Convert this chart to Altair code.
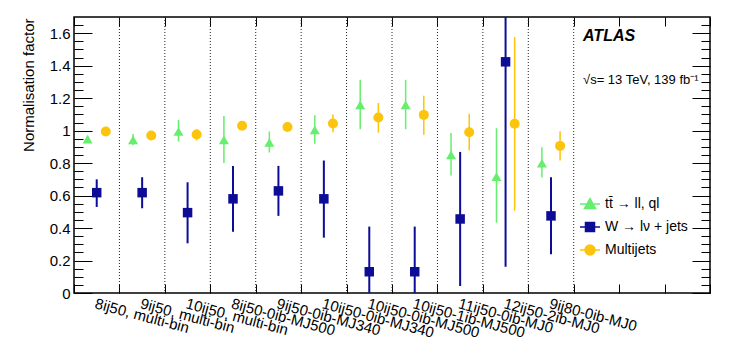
import json
import pandas as pd
import altair as alt

# ---------------- data ----------------
categories = [
    "8ij50, multi-bin", "9ij50, multi-bin", "10ij50, multi-bin",
    "8ij50-0ib-MJ500", "9ij50-0ib-MJ340", "10ij50-0ib-MJ340",
    "10ij50-0ib-MJ500", "10ij50-1ib-MJ500", "11ij50-0ib-MJ0",
    "12ij50-2ib-MJ0", "9ij80-0ib-MJ0",
]

tt_val = [0.948, 0.943, 0.995, 0.943, 0.927, 1.005, 1.159, 1.159, 0.851, 0.717, 0.800]
tt_lo = [0.930, 0.910, 0.933, 0.800, 0.865, 0.919, 1.009, 1.009, 0.723, 0.433, 0.711]
tt_hi = [0.965, 0.980, 1.066, 1.090, 0.995, 1.095, 1.313, 1.313, 0.985, 1.015, 0.898]

w_val = [0.618, 0.618, 0.495, 0.580, 0.629, 0.580, 0.131, 0.131, 0.456, 1.424, 0.475]
w_lo = [0.530, 0.522, 0.306, 0.378, 0.475, 0.341, -0.150, -0.150, 0.043, 0.162, 0.238]
w_hi = [0.700, 0.713, 0.682, 0.783, 0.783, 0.816, 0.409, 0.409, 0.869, 2.690, 0.713]

mj_val = [0.995, 0.970, 0.976, 1.030, 1.023, 1.044, 1.081, 1.097, 0.990, 1.042, 0.906]
mj_lo = [0.985, 0.960, 0.940, 1.020, 1.013, 0.990, 0.988, 0.974, 0.877, 0.507, 0.816]
mj_hi = [1.005, 0.980, 1.010, 1.040, 1.033, 1.100, 1.170, 1.215, 1.104, 1.576, 0.997]

series_names = ["tt\u0304 \u2192 ll, ql", "W \u2192 l\u03bd + jets", "Multijets"]
series_colors = ["#66ee6e", "#0c0c96", "#fcc40c"]

y_major = [0, 0.2, 0.4, 0.6, 0.8, 1.0, 1.2, 1.4, 1.6]

# ---------------- build table ----------------
rows = []
for name, vals, los, his in zip(series_names,
                                [tt_val, w_val, mj_val],
                                [tt_lo, w_lo, mj_lo],
                                [tt_hi, w_hi, mj_hi]):
    for i, (v, lo, hi) in enumerate(zip(vals, los, his)):
        rows.append({"i": i, "s": name, "val": v, "lo": lo, "hi": hi})
df = pd.DataFrame(rows)

n_bins = 14
boundaries = pd.DataFrame({"b": list(range(1, len(categories) + 1))})
centers = [i + 0.5 for i in range(len(categories))]
y_minor = [round(0.05 * k, 2) for k in range(1, 34) if k % 4]

FONT = "Liberation Sans"
xs = alt.Scale(domain=[0, n_bins], nice=False, zero=False)
ys = alt.Scale(domain=[0, 1.7], nice=False, zero=False)

# ---------------- axes ----------------
def tick_axis(orient, values, size):
    return alt.Axis(orient=orient, values=values, tickSize=size, offset=-size,
                    labels=False, domain=False, grid=False, title=None,
                    tickColor="black", tickWidth=1)

ax_bottom = tick_axis("bottom", list(range(n_bins + 1)), 9)
ax_top = tick_axis("top", list(range(n_bins + 1)), 9)
ax_right_major = tick_axis("right", y_major, 18)
ax_right_minor = tick_axis("right", y_minor, 9)
ax_left_minor = tick_axis("left", y_minor, 9)

ax_xlabels = alt.Axis(
    orient="bottom", values=centers, ticks=False, domain=False, grid=False,
    title=None, labelExpr=json.dumps(categories) + "[floor(datum.value)]",
    labelAngle=15, labelAlign="left", labelBaseline="top", labelPadding=3,
    labelFont=FONT, labelFontSize=15, labelColor="black",
    labelOverlap=False, labelFlush=False, labelBound=False,
)

ax_left_major = alt.Axis(
    orient="left", values=y_major, tickSize=18, offset=-18, domain=False,
    grid=False, format="~g", labelFont=FONT, labelFontSize=15,
    labelColor="black", labelPadding=4, labelFlush=False, tickColor="black",
    title="Normalisation factor", titleFont=FONT, titleFontSize=15,
    titleFontWeight="normal", titleColor="black", titleAngle=270,
    titleAlign="right", titleBaseline="alphabetic", titleX=-59, titleY=1,
)

# ---------------- layers ----------------
grid = alt.Chart(boundaries).mark_rule(
    color="#222222", strokeDash=[1, 2], strokeWidth=1
).encode(x=alt.X("b:Q", scale=xs, axis=ax_bottom))

styles = [
    # shape, size, offset, error width
    ("triangle-up", 100, -0.2, 1.5),
    ("square", 90, 0.0, 2.0),
    ("circle", 100, 0.2, 1.5),
]

x_axes_err = [ax_top, None, None]
y_axes_err = [None, ax_right_minor, None]
x_axes_pts = [ax_xlabels, None, None]
y_axes_pts = [ax_left_major, ax_left_minor, ax_right_major]

err_layers, pt_layers = [], []
for k, (name, color, (shape, size, off, ew)) in enumerate(zip(series_names, series_colors, styles)):
    base = alt.Chart(df).transform_filter(
        alt.datum.s == name
    ).transform_calculate(xp=f"datum.i + 0.5 + ({off})")
    err_layers.append(
        base.mark_rule(color=color, strokeWidth=ew, clip=True).encode(
            x=alt.X("xp:Q", scale=xs, axis=x_axes_err[k]),
            y=alt.Y("lo:Q", scale=ys, axis=y_axes_err[k]),
            y2="hi:Q",
        )
    )
    pt_layers.append(
        base.mark_point(shape=shape, size=size, filled=True, color=color,
                        opacity=1, clip=True).encode(
            x=alt.X("xp:Q", scale=xs, axis=x_axes_pts[k]),
            y=alt.Y("val:Q", scale=ys, axis=y_axes_pts[k]),
        )
    )

legend_paths = [
    "M-1,0H1M0,-0.55L0.55,0.45L-0.55,0.45Z",
    "M-1,0H1M-0.45,-0.45H0.45V0.45H-0.45Z",
    "M-1,0H1M0.5,0A0.5,0.5,0,1,1,-0.5,0A0.5,0.5,0,1,1,0.5,0Z",
]
leg = alt.Legend(orient="none", legendX=505, legendY=176, title=None,
                 symbolSize=400, symbolStrokeWidth=1.5, labelFont=FONT,
                 labelFontSize=14, labelColor="black", rowPadding=4,
                 padding=0, labelOffset=4, symbolOpacity=1)
legend_layer = alt.Chart(pd.DataFrame({"s": series_names})).transform_filter(
    "false"
).mark_point(filled=True, opacity=1, strokeWidth=1.5).encode(
    fill=alt.Fill("s:N", scale=alt.Scale(domain=series_names, range=series_colors), legend=leg),
    stroke=alt.Stroke("s:N", scale=alt.Scale(domain=series_names, range=series_colors), legend=leg),
    shape=alt.Shape("s:N", scale=alt.Scale(domain=series_names, range=legend_paths), legend=leg),
)

atlas = alt.Chart(pd.DataFrame({"t": ["ATLAS"]})).mark_text(
    align="left", baseline="alphabetic", font=FONT, fontSize=16,
    fontWeight="bold", fontStyle="italic", color="black"
).encode(text="t:N", x=alt.value(509), y=alt.value(24))

energy = alt.Chart(pd.DataFrame({"t": ["\u221as= 13 TeV, 139 fb\u207b\u00b9"]})).mark_text(
    align="left", baseline="alphabetic", font=FONT, fontSize=13, color="black"
).encode(text="t:N", x=alt.value(509), y=alt.value(67))

chart = alt.layer(
    grid, *err_layers, *pt_layers, legend_layer, atlas, energy
).resolve_axis(
    x="independent", y="independent"
).properties(
    width=636, height=276,
    padding={"left": 66, "top": 9, "right": 20, "bottom": 54},
    autosize=alt.AutoSizeParams(type="none"),
).configure_view(stroke="black", strokeWidth=1.5)

chart.save("out.html", embed_options={"renderer": "svg", "actions": False})
